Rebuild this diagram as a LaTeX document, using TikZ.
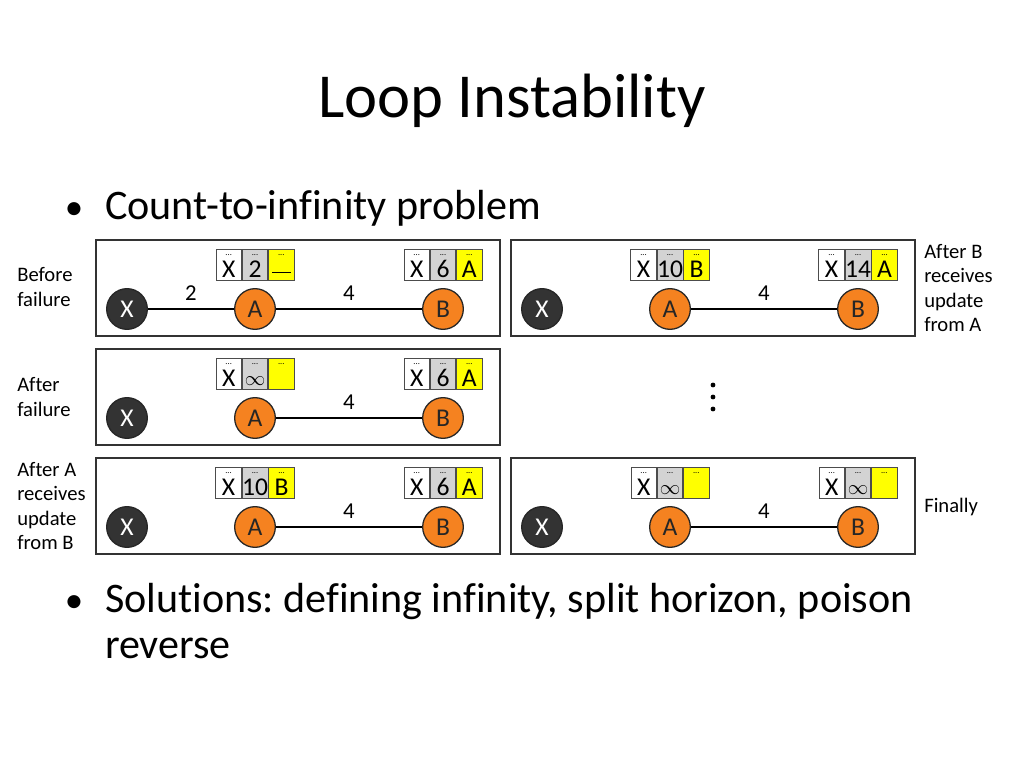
\documentclass[tikz,border=0pt]{standalone}
\usepackage{fontspec}
\setmainfont{Carlito}[Ligatures=NoCommon]
\usetikzlibrary{calc}
\usetikzlibrary{positioning}

\definecolor{routerorange}{HTML}{F58220}
\definecolor{routerdark}{HTML}{333333}
\definecolor{cellgray}{HTML}{D3D3D3}
\definecolor{cellyellow}{HTML}{FFFF00}

\tikzset{
	panel/.style={draw=black!80, line width=1.1pt},
	router/.style={circle, draw=black!85, line width=0.9pt, minimum size=28.6pt, inner sep=0pt, font=\fontsize{18}{18}\selectfont},
	xrouter/.style={router, fill=routerdark, text=white},
	arouter/.style={router, fill=routerorange, text=black!85},
	link/.style={line width=1.3pt, black},
	cost/.style={above=2pt, font=\fontsize{16}{16}\selectfont},
	celldots/.style={anchor=north, inner sep=0pt, yshift=-3.6pt, font=\fontsize{6}{6}\selectfont},
	cell/.style={draw=black!70, line width=0.5pt, minimum width=18pt, minimum height=22pt, inner sep=0pt,
		text height=19.9pt, text depth=2.1pt, font=\fontsize{18}{18}\selectfont, label={[celldots]north:...}},
	sidetext/.style={anchor=west, align=left, inner xsep=0pt, font=\fontsize{14.5}{17}\selectfont},
	bodytext/.style={anchor=base west, font=\fontsize{29.6}{29.6}\selectfont},
}

% routing table above a router: destination, cost, next hop
\newcommand{\rtable}[4]{%
	\node[cell, fill=cellgray] (#1t) at ($(#1)+(0,-44)$) {#3};
	\node[cell, fill=white, left=0pt of #1t] (#1d) {#2};
	\node[cell, fill=cellyellow, right=0pt of #1t] (#1n) {#4};
}
\newcommand{\nohop}{\rule[3.4pt]{13pt}{0.8pt}}
\newcommand{\infcost}{\raisebox{1pt}{\fontsize{14}{14}\selectfont$\infty$}}

\frenchspacing
\begin{document}
\begin{tikzpicture}[x=0.703125pt, y=-0.703125pt]
	\useasboundingbox (0,0) rectangle (1024,768);

	\node[anchor=base, font=\fontsize{44}{44}\selectfont] (title) at (512,118) {Loop Instability};
	\node[anchor=base, font=\fontsize{26}{26}\selectfont] (bulleta) at (74,220) {•};
	\node[bodytext] (count) at (100,220) {Count-to-infinity problem};

	\foreach \p/\ox/\oy in {a/96/240, b/511/240, c/96/349, d/96/458, e/511/458} {
		\draw[panel] (\ox,\oy) rectangle ++(404,96);
		\node[xrouter] (X\p) at (\ox+31,\oy+69) {X};
		\node[arouter] (A\p) at (\ox+159,\oy+69) {A};
		\node[arouter] (B\p) at (\ox+347,\oy+69) {B};
		\draw[link] (A\p) -- node[cost] {4} (B\p);
	}
	\draw[link] (Xa) -- node[cost] {2} (Aa);

	\rtable{Aa}{X}{2}{\nohop}
	\rtable{Ba}{X}{6}{A}
	\rtable{Ab}{X}{10}{B}
	\rtable{Bb}{X}{14}{A}
	\rtable{Ac}{X}{\infcost}{}
	\rtable{Bc}{X}{6}{A}
	\rtable{Ad}{X}{10}{B}
	\rtable{Bd}{X}{6}{A}
	\rtable{Ae}{X}{\infcost}{}
	\rtable{Be}{X}{\infcost}{}

	\node[sidetext] (before) at (17,287) {Before\\failure};
	\node[sidetext] (after) at (17,397) {After\\failure};
	\node[sidetext] (afterA) at (17,506) {After A\\receives\\update\\from B};
	\node[sidetext] (afterB) at (924,288) {After B\\receives\\update\\from A};
	\node[sidetext] (finally) at (924,507) {Finally};

	\fill (713,385) circle (1.7pt);
	\fill (713,397) circle (1.7pt);
	\fill (713,409) circle (1.7pt);

	\node[anchor=base, font=\fontsize{26}{26}\selectfont] (bulletb) at (74,612) {•};
	\node[bodytext] (solutions) at (100,612) {Solutions: defining infinity, split horizon, poison};
	\node[bodytext] (reverse) at (100,658) {reverse};
\end{tikzpicture}
\end{document}
